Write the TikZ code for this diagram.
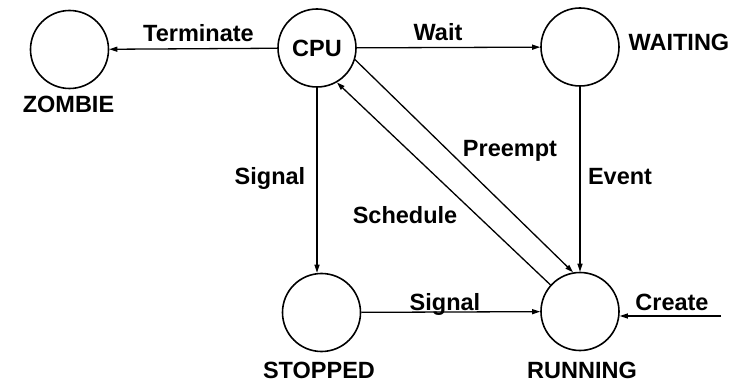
\documentclass[tikz,border=0pt]{standalone}
\usepackage{fontspec}
\setmainfont{Liberation Sans}
\usetikzlibrary{arrows.meta}
\tikzset{
  state/.style={circle,draw,line width=1.6pt,minimum size=78pt,inner sep=0pt},
  lbl/.style={anchor=base,inner sep=0pt,font=\fontsize{23.5}{28}\selectfont\bfseries},
  edge/.style={line width=1.3pt,-{Triangle[length=8pt,width=5pt]}}
}
\begin{document}
\begin{tikzpicture}[x=1pt,y=-1pt]
\useasboundingbox (0,0) rectangle (747,382);
\node[state] (zombie) at (69.5,49.5) {};
\node[state,font=\fontsize{23.5}{28}\selectfont\bfseries] (cpu) at (317,48) {CPU};
\node[state] (waiting) at (580,47) {};
\node[state] (stopped) at (321.5,312.5) {};
\node[state] (running) at (580,311.5) {};
\coordinate (createsrc) at (721,316);

\draw[edge] (cpu) -- (zombie);
\draw[edge] (cpu) -- (waiting);
\draw[edge] (cpu.south) -- (cpu.south |- stopped.north);
\draw[edge] (waiting) -- (running);
\draw[edge] (stopped) -- (running);
\draw[edge] (createsrc) -- (createsrc -| running.east);
\draw[edge] (cpu.-17) -- (running.100);
\draw[edge] (running.138) -- (cpu.-60);

\node[lbl] (tterm) at (198.5,42) {Terminate};
\node[lbl] (twait) at (438,40.5) {Wait};
\node[lbl] (twaiting) at (679,51) {WAITING};
\node[lbl] (tzombie) at (68.5,113) {ZOMBIE};
\node[lbl] (tsig1) at (270,185) {Signal};
\node[lbl] (tevent) at (620,185) {Event};
\node[lbl] (tpre) at (510,157) {Preempt};
\node[lbl] (tsched) at (405,224) {Schedule};
\node[lbl] (tsig2) at (445,310) {Signal};
\node[lbl] (tcreate) at (672,310) {Create};
\node[lbl] (tstopped) at (319,378) {STOPPED};
\node[lbl] (trunning) at (582,378) {RUNNING};
\end{tikzpicture}
\end{document}
